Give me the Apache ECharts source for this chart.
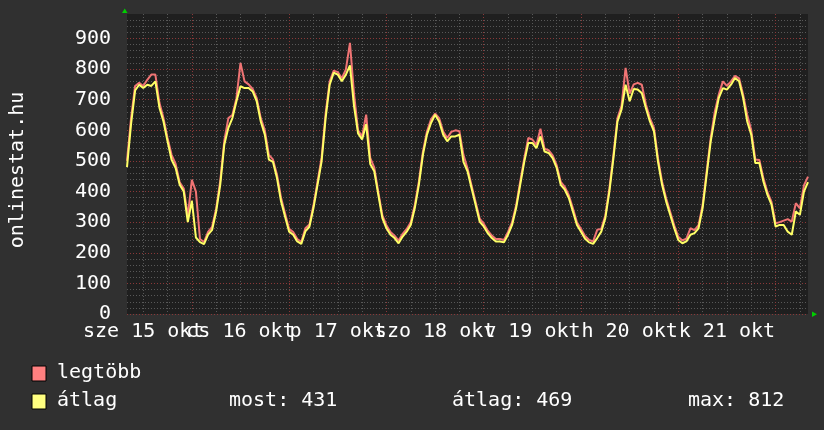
<!DOCTYPE html>
<html><head><meta charset="utf-8">
<script src="https://cdn.jsdelivr.net/npm/echarts@6/dist/echarts.min.js"></script>
<style>html,body{margin:0;padding:0;background:#303030}#c{width:824px;height:430px}</style>
</head><body><div id="c"></div>
<script>
// hourly samples starting 2008-10-15 08:00
const dayLabels = ['sze 15 okt','cs 16 okt','p 17 okt','szo 18 okt','v 19 okt','h 20 okt','k 21 okt'];
const legendNames = ['legtöbb','átlag'];
const statNames = ['most','átlag','max'];
const statValues = [431, 469, 812];
const yAxisTitle = 'onlinestat.hu';

const avgValues = [
480,620,730,749,738,749,745,760,674,629,564,504,477,422,400,300,370,250,235,228,
259,275,335,422,553,608,640,695,744,738,738,727,695,629,586,504,497,444,368,318,
269,259,237,229,270,285,346,422,498,640,749,788,782,760,782,812,680,590,570,620,
490,466,389,313,280,259,248,231,253,269,291,346,422,520,586,624,651,629,586,564,
580,580,586,497,466,411,357,302,286,264,248,237,237,234,259,291,346,422,497,559,
559,542,580,531,526,509,477,422,406,379,335,291,269,246,234,229,248,269,313,400,
509,629,668,749,695,735,733,722,673,629,597,497,422,368,324,280,242,231,237,259,
264,280,346,455,564,640,706,738,733,749,771,760,706,629,586,493,493,433,389,357,
286,291,291,269,259,335,324,400,431
];
const maxValues = [
500,640,745,755,745,765,782,782,690,640,575,520,490,430,410,320,438,400,245,235,
268,285,345,435,565,640,650,705,820,760,750,735,705,640,600,520,505,455,380,328,
278,268,245,236,280,292,355,432,510,655,760,795,790,770,799,886,720,600,580,651,
510,478,398,322,290,268,256,240,262,278,300,356,432,530,596,636,655,640,596,575,
595,600,597,520,476,420,366,312,295,272,256,245,245,242,268,300,355,432,508,575,
570,552,605,540,535,518,486,432,415,388,345,300,278,255,242,237,275,278,322,410,
520,640,680,804,720,750,755,749,685,640,608,508,432,378,334,290,252,240,246,280,
274,290,356,466,575,660,718,760,745,760,778,770,716,651,600,505,503,443,398,366,
296,300,305,310,302,362,345,420,449
];

const hourCategories = [];
for (let i = 0; i < avgValues.length; i++) {
  const t = 8 + i;
  hourCategories.push('10-' + (15 + Math.floor(t / 24)) + ' ' + String(t % 24).padStart(2, '0') + ':00');
}

const FONT = 'DejaVu Sans Mono';
const GL = 124, GT = 14, GR = 808, GB = 314;
const minorColor = '#585858', majorColor = '#8a3838';
const labelStyle = {color: '#ffffff', fontFamily: FONT, fontSize: 20, margin: 8,
  formatter: (v, i) => dayLabels[(i - 4) / 24] || '', showMinLabel: true, showMaxLabel: true, hideOverlap: false};

const chart = echarts.init(document.getElementById('c'), null, {renderer: 'canvas'});
chart.setOption({
  backgroundColor: '#303030',
  animation: false,
  grid: {left: GL, top: GT, right: 824 - GR, bottom: 430 - GB, show: true, backgroundColor: '#1f1f1f', borderWidth: 0},
  xAxis: [{
    type: 'category', data: hourCategories, boundaryGap: false,
    axisLine: {show: false}, axisTick: {show: false},
    axisLabel: Object.assign({interval: (i) => i % 48 === 4}, labelStyle),
    splitLine: {show: true, interval: (i) => i % 6 === 4 && i % 24 !== 16,
      lineStyle: {color: minorColor, width: 1, type: [1, 2]}}
  }, {
    type: 'category', data: hourCategories, boundaryGap: false, position: 'bottom',
    axisLine: {show: false}, axisTick: {show: false},
    axisLabel: Object.assign({interval: (i) => i % 48 === 28}, labelStyle),
    splitLine: {show: true, interval: (i) => i % 24 === 16,
      lineStyle: {color: majorColor, width: 1, type: [1, 2]}}
  }],
  yAxis: [{
    type: 'value', min: 0, max: 980, interval: 100,
    name: yAxisTitle, nameLocation: 'middle', nameGap: 99, nameRotate: 90,
    nameTextStyle: {color: '#ffffff', fontFamily: FONT, fontSize: 20, padding: [0, 12, 0, 0]},
    axisLine: {show: false}, axisTick: {show: false},
    axisLabel: {color: '#ffffff', fontFamily: FONT, fontSize: 20, margin: 16, showMinLabel: true, showMaxLabel: false, hideOverlap: false},
    splitLine: {show: true, showMaxLine: false,
      lineStyle: {color: [majorColor, majorColor, majorColor, majorColor, majorColor, majorColor, majorColor, majorColor, majorColor, majorColor, 'rgba(0,0,0,0)'], width: 1, type: [1, 2]}}
  }, {
    type: 'value', min: 0, max: 980, interval: 20, position: 'left',
    axisLine: {show: false}, axisTick: {show: false}, axisLabel: {show: false},
    splitLine: {show: true, showMaxLine: false,
      lineStyle: {color: ['rgba(0,0,0,0)', minorColor, minorColor, minorColor, minorColor], width: 1, type: [1, 2]}}
  }],
  series: [{
    name: legendNames[0], type: 'line', data: maxValues, xAxisIndex: 0, yAxisIndex: 0,
    symbol: 'none', lineStyle: {color: '#f07474', width: 2}, z: 3
  }, {
    name: legendNames[1], type: 'line', data: avgValues, xAxisIndex: 0, yAxisIndex: 0,
    symbol: 'none', lineStyle: {color: '#ffff66', width: 2}, z: 4
  }],
  graphic: [
    {type: 'polygon', shape: {points: [[122, 13], [127.5, 13], [124.75, 8.5]]}, style: {fill: '#00d000'}},
    {type: 'polygon', shape: {points: [[812, 311.5], [812, 317], [817, 314.25]]}, style: {fill: '#00d000'}},
    {type: 'rect', shape: {x: 32, y: 366, width: 14, height: 15}, style: {fill: '#ff8080', stroke: '#000', lineWidth: 1}},
    {type: 'rect', shape: {x: 32, y: 394, width: 14, height: 15}, style: {fill: '#ffff80', stroke: '#000', lineWidth: 1}},
    {type: 'text', x: 57, y: 373, style: {text: legendNames[0], fill: '#fff', font: '20px "DejaVu Sans Mono"', verticalAlign: 'middle'}},
    {type: 'text', x: 57, y: 401, style: {text: legendNames[1], fill: '#fff', font: '20px "DejaVu Sans Mono"', verticalAlign: 'middle'}},
    {type: 'text', x: 229, y: 401, style: {text: statNames[0] + ': ' + statValues[0], fill: '#fff', font: '20px "DejaVu Sans Mono"', verticalAlign: 'middle'}},
    {type: 'text', x: 452, y: 401, style: {text: statNames[1] + ': ' + statValues[1], fill: '#fff', font: '20px "DejaVu Sans Mono"', verticalAlign: 'middle'}},
    {type: 'text', x: 688, y: 401, style: {text: statNames[2] + ': ' + statValues[2], fill: '#fff', font: '20px "DejaVu Sans Mono"', verticalAlign: 'middle'}}
  ]
});
</script></body></html>
